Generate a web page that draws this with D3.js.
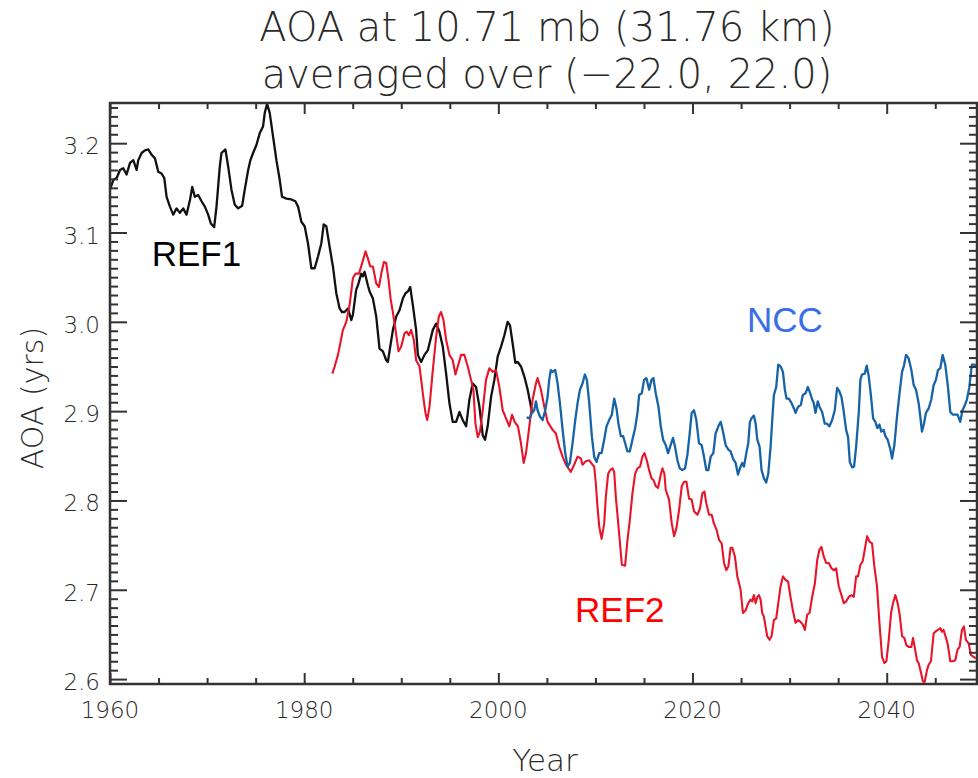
<!DOCTYPE html>
<html>
<head>
<meta charset="utf-8">
<script src="https://cdn.jsdelivr.net/npm/d3@7"></script>
<style>
  html, body { margin: 0; padding: 0; background: #fff; }
  svg { display: block; }
</style>
</head>
<body>
<svg id="chart" width="978" height="778"></svg>
<script>
// ---------- DATA ----------
const titleLines = ["AOA at 10.71 mb (31.76 km)", "averaged over (\u221222.0, 22.0)"];
const xLabel = "Year";
const yLabel = "AOA (yrs)";
const xTickValues = [1960, 1980, 2000, 2020, 2040];
const yTickValues = [2.6, 2.7, 2.8, 2.9, 3.0, 3.1, 3.2];
const seriesNames = ["REF1", "REF2", "NCC"];

const ref1Years = [1960.0,1960.34,1960.69,1961.03,1961.37,1961.71,1962.06,1962.40,1962.74,1962.91,1963.26,1963.60,1963.94,1964.29,1964.63,1964.97,1965.31,1965.59,1965.83,1966.17,1966.51,1966.86,1967.20,1967.54,1967.88,1968.23,1968.47,1968.74,1969.08,1969.43,1969.77,1970.11,1970.39,1970.73,1970.97,1971.31,1971.48,1971.89,1972.17,1972.51,1972.85,1973.20,1973.61,1973.88,1974.23,1974.46,1974.74,1975.08,1975.42,1975.77,1975.94,1976.18,1976.45,1976.80,1977.14,1977.48,1977.72,1978.17,1978.68,1979.09,1979.37,1979.71,1980.05,1980.39,1980.74,1981.08,1981.42,1981.77,1982.01,1982.28,1982.62,1982.96,1983.31,1983.65,1983.89,1984.16,1984.51,1984.85,1985.02,1985.36,1985.54,1985.88,1986.05,1986.22,1986.56,1986.74,1987.08,1987.42,1987.76,1988.11,1988.45,1988.62,1988.79,1989.14,1989.48,1989.82,1990.16,1990.44,1990.68,1990.92,1991.19,1991.53,1991.71,1992.05,1992.39,1992.73,1993.25,1993.59,1993.93,1994.28,1994.62,1994.96,1995.30,1995.65,1995.99,1996.33,1996.68,1997.02,1997.36,1997.70,1998.05,1998.39,1998.63,1998.90,1999.25,1999.59,1999.93,2000.27,2000.62,2000.96,2001.20,2001.47,2001.75,2001.99,2002.33,2002.67,2003.02,2003.36,2003.50];
const ref1Values = [3.148,3.159,3.161,3.170,3.172,3.165,3.178,3.181,3.170,3.181,3.189,3.192,3.193,3.187,3.183,3.168,3.166,3.161,3.140,3.129,3.120,3.127,3.122,3.127,3.120,3.136,3.151,3.140,3.142,3.135,3.129,3.120,3.110,3.106,3.129,3.174,3.189,3.193,3.174,3.148,3.131,3.127,3.130,3.148,3.170,3.181,3.189,3.198,3.211,3.219,3.234,3.244,3.234,3.207,3.181,3.159,3.140,3.138,3.137,3.135,3.129,3.112,3.107,3.088,3.060,3.060,3.073,3.088,3.109,3.107,3.084,3.062,3.032,3.015,3.011,3.011,3.015,3.002,3.008,3.036,3.041,3.054,3.051,3.056,3.041,3.034,3.026,3.006,2.970,2.967,2.957,2.955,2.967,2.991,3.006,3.013,3.026,3.032,3.034,3.039,3.019,2.991,2.963,2.955,2.963,2.968,2.991,2.998,2.989,2.972,2.942,2.909,2.888,2.888,2.899,2.890,2.883,2.913,2.931,2.927,2.905,2.873,2.868,2.883,2.916,2.935,2.961,2.972,2.985,3.000,2.996,2.976,2.954,2.955,2.950,2.939,2.924,2.905,2.898];

const ref2Years = [1982.90,1983.14,1983.48,1983.72,1983.99,1984.34,1984.68,1985.02,1985.30,1985.64,1985.98,1986.32,1986.56,1986.80,1987.08,1987.42,1987.70,1987.94,1988.21,1988.45,1988.69,1988.90,1989.13,1989.41,1989.72,1989.99,1990.33,1990.57,1990.78,1991.02,1991.29,1991.53,1991.88,1992.22,1992.49,1992.67,1992.91,1993.25,1993.59,1993.87,1994.10,1994.35,1994.62,1994.96,1995.30,1995.58,1995.82,1996.16,1996.50,1996.85,1997.19,1997.43,1997.64,1997.88,1998.11,1998.39,1998.73,1999.07,1999.42,1999.76,2000.10,2000.45,2000.79,2001.13,2001.41,2001.68,2002.02,2002.33,2002.61,2002.85,2003.19,2003.53,2003.87,2004.04,2004.39,2004.73,2005.07,2005.59,2005.93,2006.27,2006.62,2006.96,2007.47,2007.81,2008.16,2008.50,2008.67,2009.01,2009.36,2009.70,2009.87,2010.04,2010.21,2010.39,2010.63,2010.90,2011.07,2011.31,2011.52,2011.76,2011.93,2012.10,2012.44,2012.72,2013.06,2013.30,2013.54,2013.81,2014.09,2014.33,2014.60,2014.84,2015.05,2015.29,2015.53,2015.77,2015.97,2016.21,2016.45,2016.73,2016.90,2017.10,2017.24,2017.58,2017.86,2018.10,2018.34,2018.61,2018.89,2019.13,2019.37,2019.64,2019.91,2020.15,2020.50,2020.77,2021.01,2021.22,2021.42,2021.70,2021.97,2022.21,2022.48,2022.73,2023.00,2023.24,2023.48,2023.69,2023.92,2024.10,2024.37,2024.61,2024.78,2024.95,2025.19,2025.47,2025.74,2025.98,2026.15,2026.32,2026.50,2026.67,2026.84,2027.01,2027.18,2027.35,2027.52,2027.69,2027.93,2028.14,2028.38,2028.62,2028.83,2029.07,2029.31,2029.58,2029.85,2030.09,2030.33,2030.61,2030.88,2031.12,2031.36,2031.57,2031.81,2032.05,2032.32,2032.60,2032.84,2033.08,2033.28,2033.52,2033.76,2034.04,2034.31,2034.55,2034.79,2035.06,2035.34,2035.58,2035.82,2036.09,2036.37,2036.61,2036.85,2037.05,2037.29,2037.53,2037.74,2037.98,2038.22,2038.49,2038.73,2039.00,2039.25,2039.52,2039.76,2039.97,2040.21,2040.45,2040.65,2040.89,2041.13,2041.34,2041.58,2041.82,2042.02,2042.26,2042.54,2042.71,2042.88,2043.12,2043.29,2043.53,2043.74,2043.91,2044.15,2044.32,2044.56,2044.83,2045.00,2045.28,2045.52,2045.69,2045.86,2046.03,2046.27,2046.55,2046.82,2047.06,2047.30,2047.51,2047.75,2047.95,2048.16,2048.44,2048.67,2048.95,2049.18];
const ref2Values = [2.942,2.950,2.963,2.976,2.991,3.000,3.019,3.049,3.054,3.054,3.066,3.079,3.071,3.062,3.062,3.043,3.039,3.054,3.067,3.066,3.047,3.026,3.011,2.991,2.967,2.972,2.987,2.989,2.985,2.991,2.980,2.957,2.950,2.920,2.898,2.890,2.905,2.946,2.983,3.006,3.011,3.002,2.980,2.963,2.957,2.941,2.950,2.963,2.963,2.950,2.935,2.924,2.886,2.871,2.877,2.901,2.935,2.948,2.944,2.946,2.927,2.901,2.892,2.883,2.896,2.888,2.883,2.864,2.842,2.853,2.883,2.913,2.931,2.937,2.924,2.905,2.888,2.879,2.875,2.860,2.849,2.840,2.832,2.840,2.849,2.847,2.840,2.844,2.845,2.840,2.838,2.819,2.793,2.771,2.757,2.774,2.804,2.830,2.834,2.836,2.832,2.804,2.763,2.728,2.727,2.756,2.778,2.808,2.830,2.836,2.838,2.849,2.853,2.845,2.834,2.825,2.823,2.816,2.814,2.829,2.836,2.830,2.812,2.801,2.774,2.760,2.769,2.789,2.816,2.821,2.821,2.802,2.801,2.788,2.784,2.791,2.808,2.810,2.797,2.784,2.784,2.774,2.767,2.756,2.752,2.730,2.722,2.726,2.747,2.747,2.737,2.715,2.708,2.700,2.674,2.677,2.685,2.689,2.687,2.694,2.685,2.692,2.694,2.689,2.674,2.670,2.659,2.648,2.644,2.648,2.666,2.668,2.685,2.704,2.715,2.711,2.709,2.692,2.677,2.663,2.666,2.664,2.661,2.655,2.672,2.674,2.692,2.707,2.733,2.745,2.748,2.737,2.730,2.730,2.724,2.722,2.724,2.704,2.694,2.685,2.687,2.692,2.694,2.692,2.715,2.715,2.728,2.732,2.745,2.760,2.754,2.752,2.726,2.704,2.663,2.625,2.618,2.620,2.644,2.674,2.685,2.694,2.685,2.672,2.648,2.646,2.638,2.636,2.636,2.646,2.636,2.621,2.618,2.607,2.597,2.597,2.610,2.616,2.620,2.651,2.653,2.655,2.657,2.653,2.655,2.649,2.640,2.620,2.620,2.621,2.633,2.636,2.655,2.659,2.644,2.640,2.627,2.625,2.623];

const nccYears = [2002.91,2003.19,2003.46,2003.70,2003.87,2004.04,2004.28,2004.56,2004.83,2005.07,2005.24,2005.40,2005.59,2005.86,2006.10,2006.34,2006.62,2006.89,2007.13,2007.37,2007.64,2007.92,2008.16,2008.40,2008.67,2008.91,2009.12,2009.36,2009.63,2009.87,2010.11,2010.39,2010.63,2010.90,2011.14,2011.41,2011.69,2011.93,2012.17,2012.37,2012.61,2012.85,2013.06,2013.30,2013.54,2013.81,2014.09,2014.33,2014.50,2014.77,2015.01,2015.25,2015.53,2015.77,2015.97,2016.21,2016.49,2016.73,2016.97,2017.24,2017.48,2017.75,2017.99,2018.20,2018.44,2018.68,2018.95,2019.23,2019.47,2019.71,2019.91,2020.15,2020.39,2020.67,2020.94,2021.18,2021.42,2021.63,2021.87,2022.14,2022.38,2022.66,2022.90,2023.14,2023.41,2023.69,2023.92,2024.16,2024.44,2024.68,2024.88,2025.12,2025.30,2025.54,2025.74,2025.91,2026.08,2026.32,2026.50,2026.67,2026.91,2027.11,2027.35,2027.59,2027.80,2028.04,2028.21,2028.38,2028.62,2028.83,2029.07,2029.31,2029.51,2029.68,2029.92,2030.20,2030.44,2030.61,2030.88,2031.16,2031.36,2031.64,2031.88,2032.12,2032.32,2032.49,2032.66,2032.90,2033.08,2033.35,2033.62,2033.86,2034.10,2034.38,2034.65,2034.89,2035.13,2035.34,2035.58,2035.82,2036.02,2036.20,2036.44,2036.64,2036.85,2037.12,2037.29,2037.46,2037.74,2037.94,2038.15,2038.39,2038.60,2038.83,2039.04,2039.25,2039.45,2039.69,2039.86,2040.10,2040.38,2040.55,2040.79,2041.06,2041.30,2041.58,2041.78,2041.99,2042.26,2042.54,2042.78,2043.02,2043.29,2043.46,2043.63,2043.84,2044.04,2044.32,2044.59,2044.83,2045.07,2045.28,2045.52,2045.76,2046.03,2046.31,2046.55,2046.82,2047.06,2047.30,2047.57,2047.81,2048.02,2048.26,2048.50,2048.77,2049.05,2049.25];
const nccValues = [2.893,2.892,2.898,2.901,2.911,2.901,2.894,2.890,2.901,2.916,2.935,2.946,2.944,2.946,2.931,2.909,2.879,2.853,2.838,2.842,2.864,2.890,2.909,2.924,2.931,2.941,2.935,2.909,2.872,2.849,2.843,2.853,2.853,2.868,2.883,2.890,2.896,2.914,2.903,2.886,2.872,2.872,2.864,2.855,2.855,2.868,2.881,2.898,2.918,2.920,2.935,2.937,2.924,2.935,2.937,2.920,2.905,2.883,2.868,2.862,2.853,2.862,2.870,2.860,2.845,2.836,2.834,2.836,2.851,2.875,2.898,2.901,2.890,2.864,2.862,2.849,2.834,2.834,2.849,2.853,2.875,2.883,2.888,2.877,2.862,2.857,2.855,2.847,2.842,2.829,2.836,2.842,2.838,2.853,2.864,2.888,2.892,2.895,2.886,2.868,2.860,2.834,2.825,2.820,2.830,2.860,2.890,2.918,2.927,2.952,2.950,2.944,2.924,2.914,2.914,2.909,2.903,2.898,2.905,2.907,2.918,2.920,2.927,2.920,2.913,2.909,2.898,2.911,2.905,2.899,2.886,2.886,2.883,2.890,2.901,2.926,2.922,2.916,2.899,2.879,2.871,2.843,2.837,2.838,2.860,2.898,2.935,2.941,2.942,2.951,2.939,2.916,2.892,2.888,2.881,2.885,2.877,2.879,2.872,2.868,2.857,2.847,2.862,2.894,2.918,2.944,2.951,2.963,2.959,2.946,2.929,2.924,2.909,2.894,2.877,2.886,2.898,2.903,2.913,2.929,2.935,2.946,2.948,2.963,2.952,2.927,2.899,2.896,2.896,2.896,2.888,2.901,2.906,2.913,2.926,2.952,2.952,2.951];

// ---------- CHART ----------
const svg = d3.select("#chart");
const plotLeft = 110, plotRight = 977, plotTop = 103, plotBottom = 684;
const x = d3.scaleLinear().domain([1960, 2049.3]).range([plotLeft, plotRight]);
const y = d3.scaleLinear().domain([2.5945, 3.245]).range([plotBottom, plotTop]);

const axisColor = "#333";
const textColor = "#2a2a2a";
const tickFont = "'DejaVu Sans', sans-serif";

// Lines
const line = d3.line().x(d => x(d[0])).y(d => y(d[1]));
const zip = (a, b) => d3.range(Math.min(a.length, b.length)).map(i => [a[i], b[i]]);
const series = [
  { data: zip(ref1Years, ref1Values), color: "#111111", width: 2.3 },
  { data: zip(ref2Years, ref2Values), color: "#e8142a", width: 2.1 },
  { data: zip(nccYears, nccValues), color: "#1763a8", width: 2.3 }
];
svg.append("g").selectAll("path.series").data(series).enter().append("path")
  .attr("class", "series")
  .attr("d", d => line(d.data))
  .attr("fill", "none")
  .attr("stroke", d => d.color)
  .attr("stroke-width", d => d.width)
  .attr("stroke-linejoin", "round");

// Axes (IDL style with mirrored ticks)
const xMinor = d3.range(1965, 2050, 5).filter(v => !xTickValues.includes(v));
const yMinor = d3.range(260, 325, 1).map(v => v / 100)
  .filter(v => v >= 2.5945 && v <= 3.245 && !yTickValues.some(t => Math.abs(t - v) < 1e-6));

const xMajLen = 11, xMinLen = 6, yMajLen = 17, yMinLen = 8;
function styleAxis(g) {
  g.select(".domain").remove();
  g.selectAll(".tick line").attr("stroke", axisColor).attr("stroke-width", 2);
}
const axes = [
  [d3.axisBottom(x).tickValues(xTickValues).tickSize(-xMajLen), `translate(0,${plotBottom})`],
  [d3.axisBottom(x).tickValues(xMinor).tickSize(-xMinLen), `translate(0,${plotBottom})`],
  [d3.axisTop(x).tickValues(xTickValues).tickSize(-xMajLen), `translate(0,${plotTop})`],
  [d3.axisTop(x).tickValues(xMinor).tickSize(-xMinLen), `translate(0,${plotTop})`],
  [d3.axisLeft(y).tickValues(yTickValues).tickSize(-yMajLen), `translate(${plotLeft},0)`],
  [d3.axisLeft(y).tickValues(yMinor).tickSize(-yMinLen), `translate(${plotLeft},0)`],
  [d3.axisRight(y).tickValues(yTickValues).tickSize(-yMajLen), `translate(${plotRight},0)`],
  [d3.axisRight(y).tickValues(yMinor).tickSize(-yMinLen), `translate(${plotRight},0)`]
];
axes.forEach(([ax, tr]) => {
  svg.append("g").attr("transform", tr).call(ax.tickFormat("")).call(styleAxis);
});

// Frame
svg.append("rect")
  .attr("x", plotLeft).attr("y", plotTop)
  .attr("width", plotRight - plotLeft).attr("height", plotBottom - plotTop)
  .attr("fill", "none").attr("stroke", axisColor).attr("stroke-width", 2.5);

// Tick labels
svg.append("g").selectAll("text").data(xTickValues).enter().append("text")
  .attr("x", d => x(d)).attr("y", 718)
  .attr("text-anchor", "middle")
  .attr("font-family", tickFont).attr("font-weight", 300).attr("font-size", 23).attr("fill", textColor)
  .text(d => d);
svg.append("g").selectAll("text").data(yTickValues).enter().append("text")
  .attr("x", 100).attr("y", d => y(d) + 11)
  .attr("text-anchor", "end")
  .attr("font-family", tickFont).attr("font-weight", 300).attr("font-size", 23).attr("fill", textColor)
  .text(d => d3.format(".1f")(d));

// Axis titles
svg.append("text")
  .attr("x", 545).attr("y", 771)
  .attr("text-anchor", "middle")
  .attr("font-family", tickFont).attr("font-weight", 300).attr("font-size", 31).attr("fill", textColor)
  .text(xLabel);
svg.append("text")
  .attr("transform", "translate(43,398) rotate(-90)")
  .attr("text-anchor", "middle")
  .attr("font-family", tickFont).attr("font-weight", 300).attr("font-size", 30).attr("fill", textColor)
  .text(yLabel);

// Title
svg.append("g").selectAll("text").data(titleLines).enter().append("text")
  .attr("x", 547).attr("y", (d, i) => 41 + i * 47)
  .attr("text-anchor", "middle")
  .attr("font-family", tickFont).attr("font-weight", 300).attr("font-size", 40).attr("fill", textColor)
  .text(d => d);

// Series labels
const labelInfo = [
  { text: seriesNames[0], x: 1964.3, v: 3.063, color: "#000000" },
  { text: seriesNames[1], x: 2007.9, v: 2.664, color: "#ff0000" },
  { text: seriesNames[2], x: 2025.6, v: 2.989, color: "#3a6ee8" }
];
svg.append("g").selectAll("text").data(labelInfo).enter().append("text")
  .attr("x", d => x(d.x)).attr("y", d => y(d.v))
  .attr("font-family", "'Liberation Sans', Arial, sans-serif")
  .attr("font-size", 35).attr("fill", d => d.color)
  .text(d => d.text);
</script>
</body>
</html>
